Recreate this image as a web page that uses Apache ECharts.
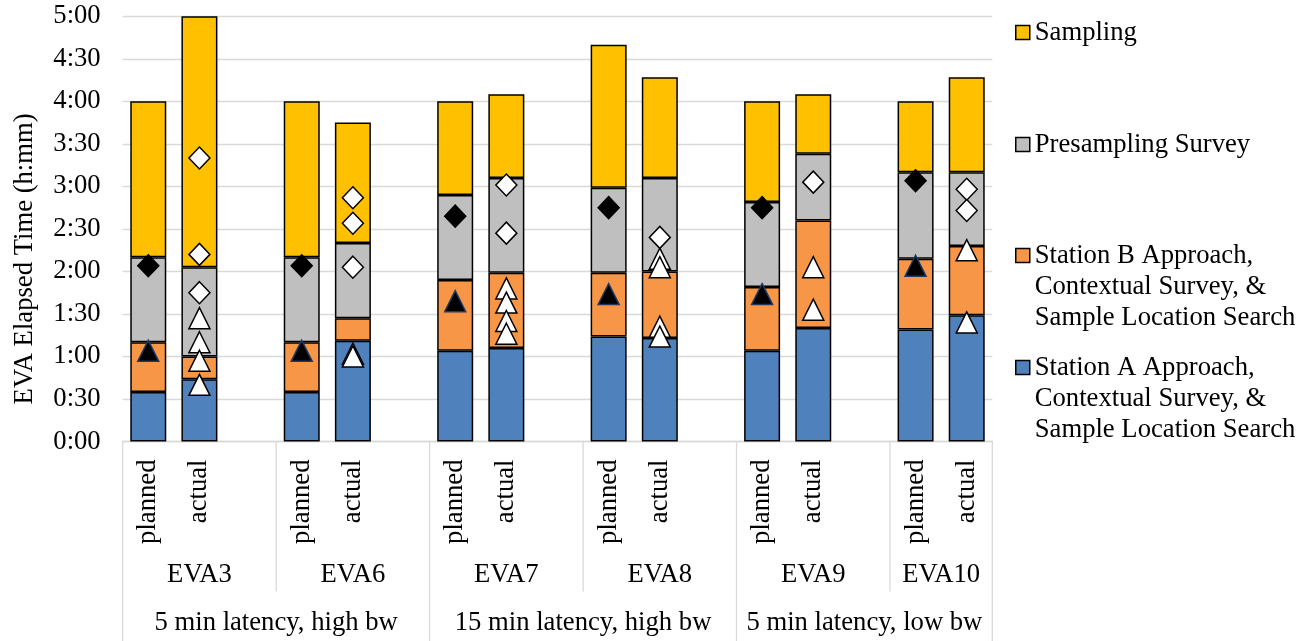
<!DOCTYPE html>
<html>
<head>
<meta charset="utf-8">
<script src="https://cdn.jsdelivr.net/npm/echarts@6/dist/echarts.min.js"></script>
<style>
html,body{margin:0;padding:0;background:#fff;}
#chart{width:1309px;height:641px;}
</style>
</head>
<body>
<div id="chart"></div>
<script>
// ---- data (minutes of EVA elapsed time) ----
const evas = ['EVA3', 'EVA6', 'EVA7', 'EVA8', 'EVA9', 'EVA10'];
const phases = ['planned', 'actual'];
const conditions = ['5 min latency, high bw', '15 min latency, high bw', '5 min latency, low bw'];
const evasPerCondition = [2, 2, 2];
const yTicks = ['0:00','0:30','1:00','1:30','2:00','2:30','3:00','3:30','4:00','4:30','5:00'];

// bars in order: EVA3 planned, EVA3 actual, EVA6 planned, ...
const stationA     = [35, 44, 35, 71, 64, 66, 74, 73, 64, 80, 79, 89];
const stationB     = [35, 16, 35, 16, 50, 53, 45, 47, 45, 76, 50, 49];
const presampling  = [60, 63, 60, 53, 60, 67, 60, 66, 60, 47, 61, 52];
const sampling     = [110, 177, 110, 85, 66, 59, 101, 71, 71, 42, 50, 67];

const diamondMarks = [[124], [200, 132, 105], [124], [172, 154, 123], [159], [181, 147],
                      [165], [144], [165], [183], [184], [178, 163]];
const triangleMarks = [[64], [87, 70, 57, 40], [64], [62, 60], [99], [108, 98, 85, 76],
                       [104], [129, 123, 81, 74], [104], [123, 93], [124], [135, 84]];

// ---- build category slots (planned, actual, gap) ----
const slotNames = [];
evas.forEach((e, i) => {
  phases.forEach(p => slotNames.push(p));
  if (i < evas.length - 1) slotNames.push('');
});
const slotOf = b => Math.floor(b / 2) * 3 + (b % 2);
function toSlots(arr) {
  const out = slotNames.map(() => '-');
  arr.forEach((v, b) => { out[slotOf(b)] = v; });
  return out;
}
function marks(list, phaseIdx) {
  const out = [];
  list.forEach((vals, b) => {
    if (b % 2 !== phaseIdx) return;
    vals.forEach(v => out.push([slotOf(b), v]));
  });
  return out;
}

const FONT = 'Liberation Serif';
const FS = 26.67;
const barStyle = c => ({ color: c, borderColor: '#000', borderWidth: 1.5 });

const chart = echarts.init(document.getElementById('chart'));

function legendAt(name, top, multi) {
  return {
    data: [name],
    left: 1015,
    top: top,
    padding: 0,
    orient: 'vertical',
    icon: 'rect',
    itemWidth: 14,
    itemHeight: 14,
    itemGap: 0,
    selectedMode: false,
    itemStyle: { borderColor: '#000', borderWidth: 1.5 },
    formatter: multi ? (n => '\n\n' + n) : (n => n),
    textStyle: { fontFamily: FONT, fontSize: FS, color: '#000', lineHeight: 31 }
  };
}

const nameB = 'Station B Approach,\nContextual Survey, &\nSample Location Search';
const nameA = 'Station A Approach,\nContextual Survey, &\nSample Location Search';

const option = {
  animation: false,
  backgroundColor: '#fff',
  grid: { left: 122.7, right: 316.7, top: 16.3, bottom: 199.5, containLabel: false },
  legend: [
    legendAt('Sampling', 17, false),
    legendAt('Presampling Survey', 129, false),
    legendAt(nameB, 178, true),
    legendAt(nameA, 290, true)
  ],
  xAxis: {
    type: 'category',
    data: slotNames,
    boundaryGap: true,
    axisLine: { show: true, lineStyle: { color: '#d9d9d9', width: 1.3 } },
    axisTick: { show: false },
    axisLabel: {
      interval: 0, rotate: 90, margin: 18,
      fontFamily: FONT, fontSize: FS, color: '#000'
    },
    splitLine: { show: false }
  },
  yAxis: {
    type: 'value',
    min: 0, max: 300, interval: 30,
    name: 'EVA Elapsed Time (h:mm)',
    nameLocation: 'middle',
    nameGap: 84,
    nameTextStyle: { fontFamily: FONT, fontSize: FS, color: '#000', padding: [0, 60, 0, 0] },
    axisLine: { show: false },
    axisTick: { show: false },
    axisLabel: {
      margin: 22, fontFamily: FONT, fontSize: FS, color: '#000',
      formatter: v => yTicks[Math.round(v / 30)]
    },
    splitLine: { lineStyle: { color: '#d9d9d9', width: 1.3 } }
  },
  series: [
    { name: nameA, type: 'bar', stack: 't', barWidth: 36,
      itemStyle: barStyle('#4f81bd'), data: toSlots(stationA) },
    { name: nameB, type: 'bar', stack: 't', barWidth: 36,
      itemStyle: barStyle('#f79646'), data: toSlots(stationB) },
    { name: 'Presampling Survey', type: 'bar', stack: 't', barWidth: 36,
      itemStyle: barStyle('#bfbfbf'), data: toSlots(presampling) },
    { name: 'Sampling', type: 'bar', stack: 't', barWidth: 36,
      itemStyle: barStyle('#ffc000'), data: toSlots(sampling) },
    { name: 'planned triangle', type: 'scatter', symbol: 'triangle', symbolSize: [21, 21], z: 5,
      itemStyle: { color: '#000', borderColor: '#1f3864', borderWidth: 1.5, opacity: 1 },
      data: marks(triangleMarks, 0) },
    { name: 'actual triangle', type: 'scatter', symbol: 'triangle', symbolSize: [21, 21], z: 5,
      itemStyle: { color: '#fff', borderColor: '#000', borderWidth: 1.5, opacity: 1 },
      data: marks(triangleMarks, 1) },
    { name: 'planned diamond', type: 'scatter', symbol: 'diamond', symbolSize: [21, 22], z: 5,
      itemStyle: { color: '#000', borderColor: '#000', borderWidth: 1.5, opacity: 1 },
      data: marks(diamondMarks, 0) },
    { name: 'actual diamond', type: 'scatter', symbol: 'diamond', symbolSize: [21, 22], z: 5,
      itemStyle: { color: '#fff', borderColor: '#000', borderWidth: 1.5, opacity: 1 },
      data: marks(diamondMarks, 1) }
  ]
};
chart.setOption(option);

// ---- multi-level category axis (EVA and condition rows) ----
const px = i => chart.convertToPixel({ xAxisIndex: 0 }, i);
const step = px(1) - px(0);
const edge = s => (s >= slotNames.length ? px(slotNames.length - 1) + step / 2 : px(s) - step / 2);
const y0 = chart.convertToPixel({ yAxisIndex: 0 }, 0);
const H = 641;
const els = [];
const lineStyle = { stroke: '#d9d9d9', lineWidth: 1.3 };
const txt = (x, y, t) => ({ type: 'text', x: x, y: y,
  style: { text: t, fontFamily: FONT, fontSize: FS, fill: '#000', align: 'center', verticalAlign: 'middle' } });

let evaIdx = 0;
evasPerCondition.forEach((n, c) => {
  const cStart = edge(evaIdx * 3);
  const cEnd = edge(Math.min((evaIdx + n) * 3, slotNames.length));
  els.push({ type: 'line', shape: { x1: cStart, y1: y0, x2: cStart, y2: H }, style: lineStyle });
  if (c === evasPerCondition.length - 1)
    els.push({ type: 'line', shape: { x1: cEnd, y1: y0, x2: cEnd, y2: H }, style: lineStyle });
  els.push(txt((cStart + cEnd) / 2, y0 + 181, conditions[c]));
  for (let k = 0; k < n; k++) {
    const e = evaIdx + k;
    const a = edge(e * 3);
    const b = edge(Math.min(e * 3 + 3, slotNames.length));
    if (k > 0) els.push({ type: 'line', shape: { x1: a, y1: y0, x2: a, y2: y0 + 150 }, style: lineStyle });
    els.push(txt((a + b) / 2, y0 + 133, evas[e]));
  }
  evaIdx += n;
});
chart.setOption({ graphic: els });
</script>
</body>
</html>
